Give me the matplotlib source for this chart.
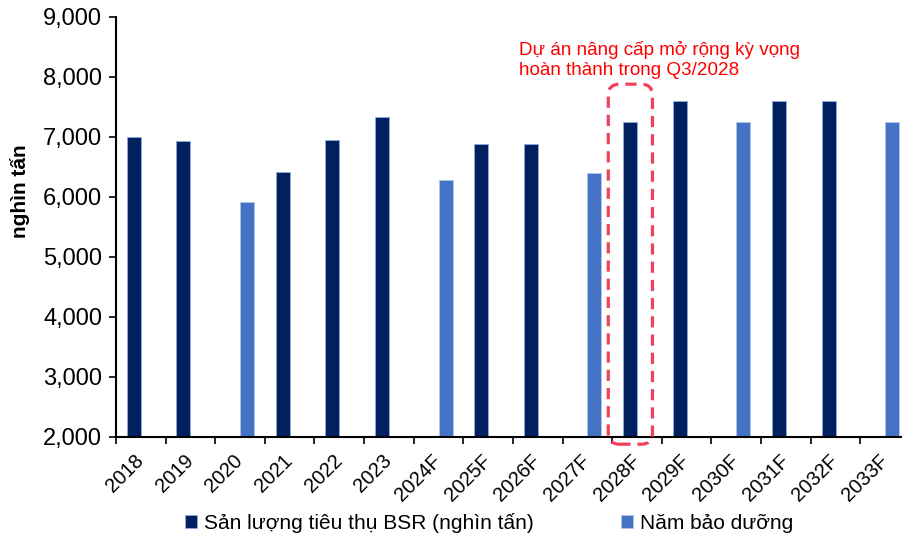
import numpy as np
import matplotlib.pyplot as plt
from matplotlib.patches import FancyBboxPatch
from matplotlib.ticker import FuncFormatter, FixedLocator

plt.rcParams['font.family'] = ['Liberation Sans', 'DejaVu Sans']

years = ["2018", "2019", "2020", "2021", "2022", "2023", "2024F", "2025F",
         "2026F", "2027F", "2028F", "2029F", "2030F", "2031F", "2032F", "2033F"]
nan = np.nan
# san luong tieu thu BSR (nghin tan); nan = nam bao duong
san_luong = [7000, 6930, nan, 6415, 6950, 7325, nan, 6875,
             6875, nan, 7255, 7605, nan, 7605, 7605, nan]
bao_duong = [nan, nan, 5910, nan, nan, nan, 6285, nan,
             nan, 6400, nan, nan, 7255, nan, nan, 7255]

DARK = "#002060"
LIGHT = "#4472C4"

fig = plt.figure(figsize=(9.03, 5.37), dpi=100)
ax = fig.add_axes([116 / 903, 100 / 537, 794 / 903, 420 / 537])

x = np.arange(len(years))
w = 0.282
ax.bar(x - w / 2, san_luong, w, color=DARK, edgecolor="#8FAADC",
       linewidth=0.6, label="Sản lượng tiêu thụ BSR (nghìn tấn)")
ax.bar(x + w / 2, bao_duong, w, color=LIGHT, edgecolor="#B4C7E7",
       linewidth=0.6, label="Năm bảo dưỡng")

ax.set_xlim(-0.5, len(years) - 0.5)
ax.set_ylim(2000, 9000)
ax.set_yticks(np.arange(2000, 9001, 1000))
ax.yaxis.set_major_formatter(FuncFormatter(lambda v, p: f"{v:,.0f}"))

ax.set_xticks(x)
ax.set_xticklabels(years, rotation=45, ha="right", va="center",
                   rotation_mode="anchor")
ax.xaxis.set_minor_locator(FixedLocator(np.arange(-0.5, len(years), 1)))
ax.tick_params(axis="x", which="major", length=0, pad=15, labelsize=14.5)
ax.tick_params(axis="x", which="minor", length=5, width=1.2, direction="out")
ax.tick_params(axis="y", length=5, width=1.2, direction="out", labelsize=17,
               pad=5)

for s in ["top", "right"]:
    ax.spines[s].set_visible(False)
ax.spines["left"].set_linewidth(1.5)
ax.spines["bottom"].set_linewidth(1.5)

ax.set_ylabel("nghìn tấn", fontsize=15, fontweight="bold")
ax.yaxis.set_label_coords(-0.108, 0.585)

# khung net dut bo goc quanh cot 2028F (toa do pixel)
x0, y0 = ax.transData.transform((9.42, 1880))
x1, y1 = ax.transData.transform((10.31, 7880))
box = FancyBboxPatch((x0, y0), x1 - x0, y1 - y0,
                     boxstyle="round,pad=0,rounding_size=11",
                     transform=None, fill=False, edgecolor="#F0405A",
                     linewidth=2.3, linestyle=(0, (3.5, 2.2)),
                     clip_on=False, zorder=5)
fig.add_artist(box)

fig.text(519 / 903, 1 - 60 / 537, "Dự án nâng cấp mở rộng kỳ vọng\nhoàn thành trong Q3/2028",
         color="#FF0000", fontsize=13.6, ha="left", va="center",
         linespacing=1.2)

fig.legend(loc="center", bbox_to_anchor=(489 / 903, 1 - 523 / 537), ncol=2,
           frameon=False, fontsize=15, handlelength=0.6, handleheight=0.6,
           handletextpad=0.3, columnspacing=4.2, borderaxespad=0)

fig.savefig("out.png", dpi=100)
